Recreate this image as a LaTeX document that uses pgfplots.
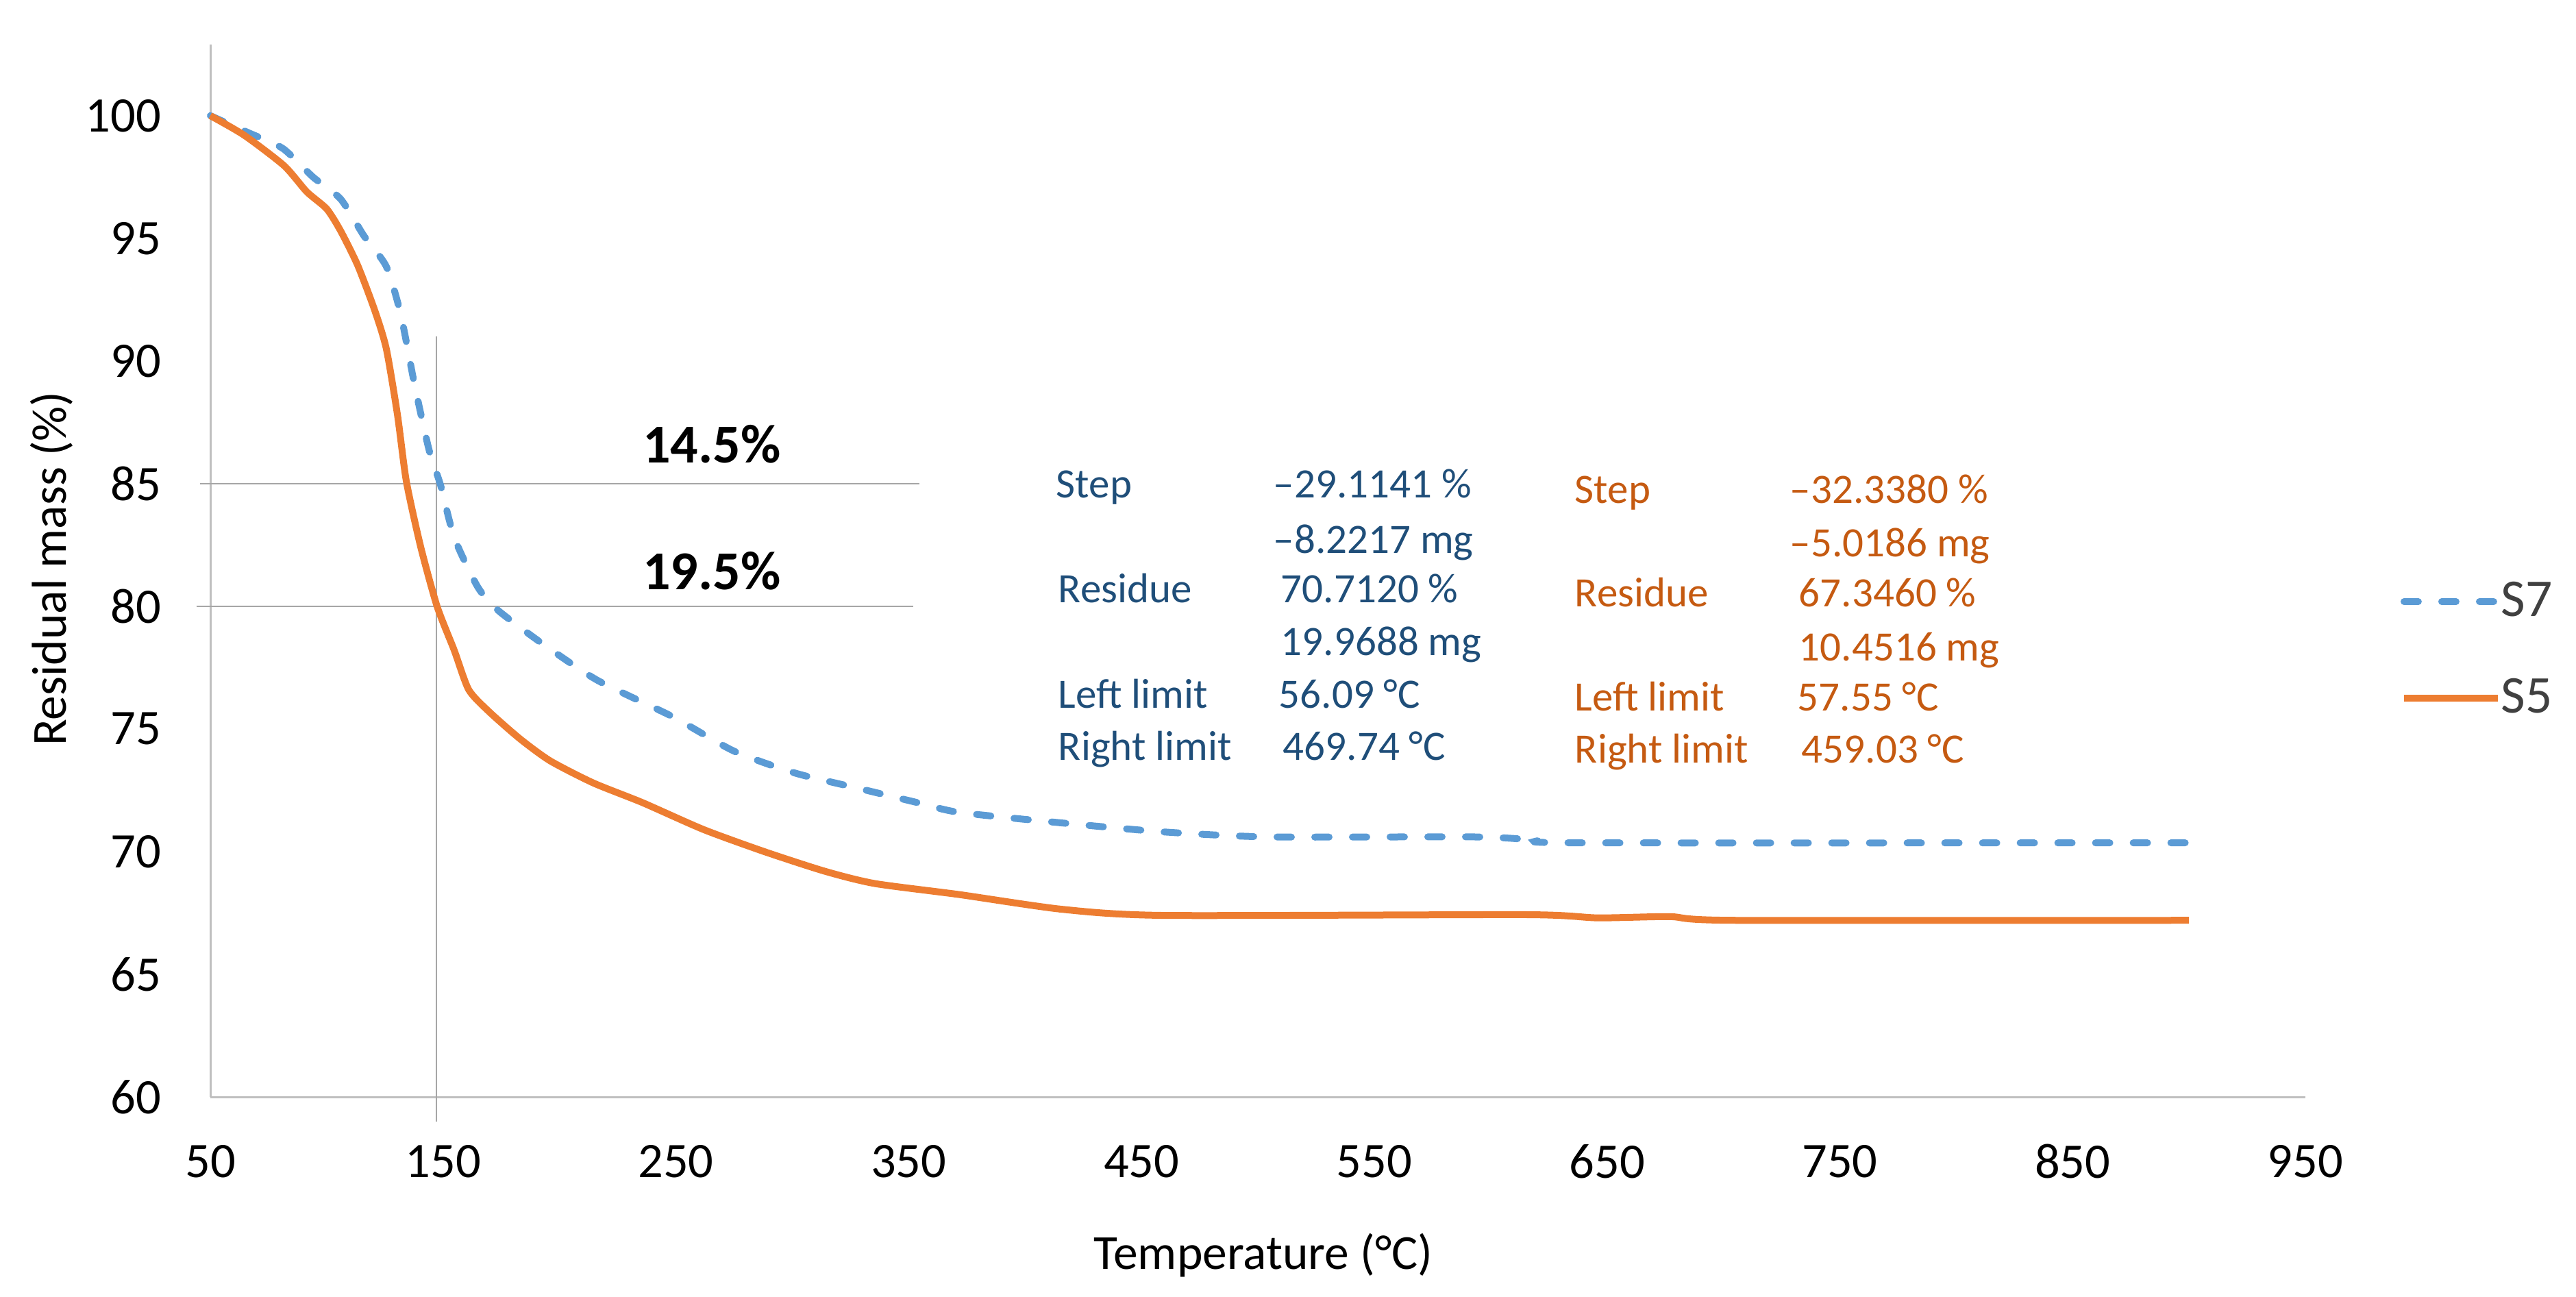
\documentclass[border=0pt]{standalone}
\usepackage{fontspec}
\setmainfont{Carlito}
\usepackage{pgfplots}
\pgfplotsset{compat=1.18}
\definecolor{sblue}{HTML}{5B9BD5}
\definecolor{sorange}{HTML}{ED7D31}
\definecolor{tblue}{HTML}{1F4E79}
\definecolor{torange}{HTML}{C55A11}
\definecolor{axgray}{HTML}{BFBFBF}
\definecolor{refgray}{HTML}{A6A6A6}
\definecolor{legtext}{HTML}{404040}

\tikzset{
  ann/.style={anchor=west, inner sep=0pt, text height=7.9pt, text depth=0pt,
    font=\fontsize{12.2}{14}\selectfont},
  big/.style={anchor=west, inner sep=0pt, text height=10.3pt, text depth=0pt,
    font=\fontsize{16}{19}\selectfont\bfseries},
}

\begin{document}
\begin{tikzpicture}
\path[use as bounding box] (0,0) rectangle (752pt,378.4pt);
\begin{axis}[
  at={(61.4pt,58.2pt)}, anchor=south west,
  scale only axis, width=611.6pt, height=307.2pt,
  xmin=50, xmax=950, ymin=60, ymax=102.9,
  xtick={50,150,...,950}, ytick={60,65,...,100},
  axis lines*=left,
  axis line style={draw=axgray, line width=0.6pt},
  major tick length=0pt,
  /pgf/number format/assume math mode=true,
  /pgf/number format/1000 sep={},
  tick label style={font=\fontsize{14.5}{17}\selectfont, text=black, inner sep=0pt},
  xticklabel style={anchor=center, yshift=-18.8pt},
  yticklabel style={anchor=east, xshift=-14.2pt},
  xlabel={Temperature (°C)}, ylabel={Residual mass (\%)},
  label style={font=\fontsize{14.3}{17}\selectfont, inner sep=0pt},
  xlabel style={at={(axis description cs:0.5026,-0.1504)}, anchor=center},
  ylabel style={at={(axis description cs:-0.0759,0.502)}, anchor=center},
  clip=false,
  legend cell align=left,
  legend image code/.code={\draw[#1] (0pt,0pt) -- (27.4pt,0pt);},
  legend style={at={(1.0451,0.4248)}, anchor=west, draw=none, fill=none,
    inner sep=0pt, row sep=16.6pt, text=legtext,
    font=\fontsize{15.5}{18}\selectfont,
    nodes={inner sep=0pt},
    /tikz/every even column/.style={column sep=3pt}},
]
% reference lines
\addplot[refgray, line width=0.5pt, forget plot] coordinates {(147.1,91.0) (147.1,59.0)};
\addplot[refgray, line width=0.5pt, forget plot] coordinates {(45.5,85) (354.6,85)};
\addplot[refgray, line width=0.5pt, forget plot] coordinates {(44,80) (352,80)};

% S7
\addplot[sblue, line width=2pt, line cap=round, dash pattern=on 4.2pt off 6.8pt,
  smooth, tension=0.4] coordinates {
 (50,100) (54.7,99.8) (66.5,99.3) (81.2,98.66) (94.1,97.5) (106,96.6) (116,95.1)
 (125.6,93.85) (131.8,91.9) (137.7,89.05) (143.9,86.4) (148.9,84.94) (154.8,82.8)
 (164.8,80.8) (173.3,79.86) (191.6,78.55) (216,77.0) (248.6,75.5) (274.9,74.1)
 (301.3,73.2) (327.5,72.6) (353.7,72.0) (371.7,71.6) (415.8,71.17) (460,70.8)
 (504.7,70.6) (593,70.6) (620,70.47) (637,70.36) (900,70.36)
};
\addlegendentry{S7}

% S5
\addplot[sorange, line width=2pt, smooth, tension=0.4] coordinates {
 (50,100) (64.6,99.2) (81.7,97.96) (91.4,96.9) (100,96.2) (106,95.3) (113.3,93.9)
 (120.6,92.07) (125.6,90.5) (130.4,87.8) (134.2,85.1) (140.3,82.45) (147.4,80.0)
 (154.8,78.2) (161,76.6) (169.8,75.7) (183,74.6) (196,73.7) (214.5,72.8)
 (235.6,72.0) (261.9,70.9) (288,70.0) (314,69.2) (335.4,68.7) (371.7,68.25)
 (415.8,67.65) (460,67.4) (615,67.43) (646,67.3) (677,67.35) (704,67.2) (900,67.2)
};
\addlegendentry{S5}
\end{axis}

\begin{scope}[x=0.2pt, y=-0.2pt, shift={(0pt,378.4pt)}]
\node[big] at (937,650) {14.5\%};
\node[big] at (937,835) {19.5\%};

\begin{scope}[every node/.append style={text=tblue}]
\node[ann] at (1541,707) {Step};
\node[ann] at (1858,707) {–29.1141 \%};
\node[ann] at (1858,788) {–8.2217 mg};
\node[ann] at (1544,860) {Residue};
\node[ann] at (1869,860) {70.7120 \%};
\node[ann] at (1869,937) {19.9688 mg};
\node[ann] at (1544,1014) {Left limit};
\node[ann] at (1866,1014) {56.09 °C};
\node[ann] at (1544,1090) {Right limit};
\node[ann] at (1872,1090) {469.74 °C};
\end{scope}

\begin{scope}[every node/.append style={text=torange}]
\node[ann] at (2298,715) {Step};
\node[ann] at (2612,715) {–32.3380 \%};
\node[ann] at (2612,793) {–5.0186 mg};
\node[ann] at (2298,866) {Residue};
\node[ann] at (2625,866) {67.3460 \%};
\node[ann] at (2625,945) {10.4516 mg};
\node[ann] at (2298,1018) {Left limit};
\node[ann] at (2623,1018) {57.55 °C};
\node[ann] at (2298,1094) {Right limit};
\node[ann] at (2629,1094) {459.03 °C};
\end{scope}
\end{scope}
\end{tikzpicture}
\end{document}
